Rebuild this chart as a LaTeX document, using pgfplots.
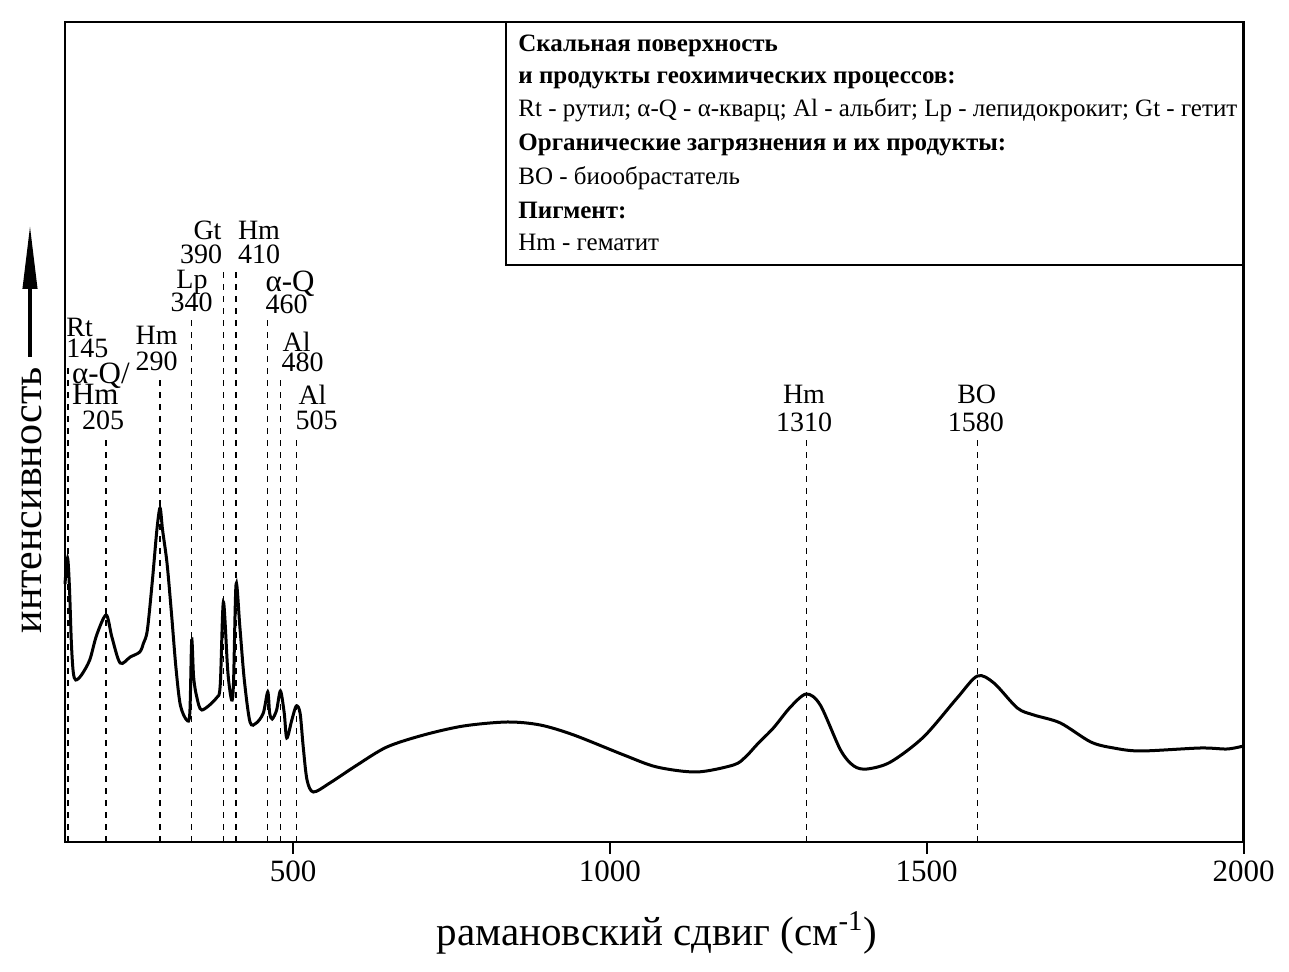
\documentclass[border=0pt]{standalone}
\usepackage{fontspec}
\setmainfont{Liberation Serif}
\usepackage{pgfplots}
\pgfplotsset{compat=1.18}
\usetikzlibrary{arrows.meta}
\newcommand\lf{\fontsize{14}{15}\selectfont}
\newcommand\lfb{\fontsize{15.5}{17}\selectfont}
\newcommand\gf{\fontsize{12.5}{14}\selectfont}
\begin{document}
\begin{tikzpicture}
\begin{axis}[name=ax, scale only axis, width=589.25pt, height=410pt,
  xmin=140, xmax=2000, ymin=0, ymax=820,
  axis line style={line width=1.3pt},
  xtick={500,1000,1500,2000}, ytick=\empty,
  tick align=outside, xtick pos=bottom, major tick length=6pt,
  tick style={line width=1pt, black},
  scaled x ticks=false,
  /pgf/number format/1000 sep={},
  /pgf/number format/assume math mode=true,
  xticklabel style={font=\fontsize{15.5}{16}\selectfont},
  clip=false]
% vertical marker lines
\draw[line width=0.7pt, black, dash pattern=on 3pt off 3pt]
  (axis cs:145,0) -- (axis cs:145,479)
  (axis cs:205,0) -- (axis cs:205,407)
  (axis cs:290,0) -- (axis cs:290,467)
  (axis cs:340,0) -- (axis cs:340,525)
  (axis cs:390,0) -- (axis cs:390,572)
  (axis cs:410,0) -- (axis cs:410,572)
  (axis cs:460,0) -- (axis cs:460,525)
  (axis cs:480,0) -- (axis cs:480,467)
  (axis cs:505,0) -- (axis cs:505,407)
  (axis cs:1310,0) -- (axis cs:1310,407)
  (axis cs:1580,0) -- (axis cs:1580,407);
\addplot[line width=1.5pt, black, smooth, tension=0.5] coordinates {
(140,258) (144,284) (147,255) (150,200) (153,170) (157,162) (166,167)
(179,182) (190,207) (205,227) (214,205) (227,179) (243,185) (258,190)
(264,199) (270,212) (278,262) (285,312) (290,334) (294,312) (301,279)
(308,229) (315,175) (322,137) (332,122) (337,129) (340,202) (343,165)
(348,145) (356,132) (379,144) (385,157) (390,240) (397,170) (403,142)
(406,160) (410,258) (416,215) (423,162) (432,120) (442,119) (453,129)
(460,150) (463,129) (467,123) (474,132) (480,151) (486,129) (490,104)
(498,122) (505,136) (511,129) (516,95) (522,62) (532,50) (558,59)
(601,77) (648,95) (706,107) (769,116) (838,120) (890,117) (943,107)
(1022,87) (1074,75) (1137,70) (1195,77) (1214,85) (1233,98) (1258,114)
(1285,135) (1310,148) (1332,137) (1364,92) (1385,76) (1406,73)
(1443,80) (1495,105) (1548,144) (1580,166) (1606,159) (1643,134)
(1669,127) (1711,119) (1759,100) (1795,94) (1838,91) (1932,94)
(1974,93) (2000,96)
};
\end{axis}
% annotations, placed in reference pixel coordinates
\begin{scope}[shift={(ax.south west)}, x=0.5pt, y=-0.5pt, shift={(-65,-842)}]
\node[anchor=base west, font=\lf, inner sep=0] at (66,336.7) {Rt};
\node[anchor=base west, font=\lf, inner sep=0] at (66,357.7) {145};
\node[anchor=base west, font=\lfb, inner sep=0] at (71.7,383.3) {α-Q/};
\node[anchor=base west, font=\lfb, inner sep=0] at (71.7,405) {Hm};
\node[anchor=base west, font=\lf, inner sep=0] at (81.7,430) {205};
\node[anchor=base, font=\lf, inner sep=0] at (156.7,345) {Hm};
\node[anchor=base, font=\lf, inner sep=0] at (156.7,370.7) {290};
\node[anchor=base, font=\lf, inner sep=0] at (192,288.3) {Lp};
\node[anchor=base, font=\lf, inner sep=0] at (191.7,311.7) {340};
\node[anchor=base, font=\lf, inner sep=0] at (207.5,240) {Gt};
\node[anchor=base, font=\lf, inner sep=0] at (201,263.3) {390};
\node[anchor=base, font=\lf, inner sep=0] at (259,240) {Hm};
\node[anchor=base, font=\lf, inner sep=0] at (259,263.3) {410};
\node[anchor=base, font=\lfb, inner sep=0] at (290,291.7) {α-Q};
\node[anchor=base, font=\lf, inner sep=0] at (286.7,313.3) {460};
\node[anchor=base, font=\lf, inner sep=0] at (296.7,351.7) {Al};
\node[anchor=base, font=\lf, inner sep=0] at (302.5,371.7) {480};
\node[anchor=base, font=\lf, inner sep=0] at (312.5,405) {Al};
\node[anchor=base, font=\lf, inner sep=0] at (316.7,430) {505};
\node[anchor=base, font=\lf, inner sep=0] at (804,403.3) {Hm};
\node[anchor=base, font=\lf, inner sep=0] at (804,431.7) {1310};
\node[anchor=base, font=\lf, inner sep=0] at (976.7,403.3) {BO};
\node[anchor=base, font=\lf, inner sep=0] at (975.8,431.7) {1580};
% legend box
\draw[line width=1pt] (506,22) rectangle (1243.5,265);
\node[anchor=base west, font=\gf\bfseries, inner sep=0] at (518,52) {Скальная поверхность};
\node[anchor=base west, font=\gf\bfseries, inner sep=0] at (518,84) {и продукты геохимических процессов:};
\node[anchor=base west, font=\gf, inner sep=0] at (518,117) {Rt - рутил; α-Q - α-кварц; Al - альбит; Lp - лепидокрокит; Gt - гетит};
\node[anchor=base west, font=\gf\bfseries, inner sep=0] at (518,151) {Органические загрязнения и их продукты:};
\node[anchor=base west, font=\gf, inner sep=0] at (518,185) {BO - биообрастатель};
\node[anchor=base west, font=\gf\bfseries, inner sep=0] at (518,219) {Пигмент:};
\node[anchor=base west, font=\gf, inner sep=0] at (518,251) {Hm - гематит};
% axis titles
\draw[line width=2pt, -{Triangle[length=32pt,width=7pt]}] (30,357) -- (30,225);
\node[rotate=90, anchor=base east, font=\fontsize{21}{24}\selectfont, inner sep=0] at (42,367) {интенсивность};
\node[anchor=base, font=\fontsize{20.5}{24}\selectfont, inner sep=0] at (657,946) {рамановский сдвиг (см\textsuperscript{-1})};
\pgfresetboundingbox
\path[use as bounding box] (0,0) rectangle (1289,972);
\end{scope}
\end{tikzpicture}
\end{document}
